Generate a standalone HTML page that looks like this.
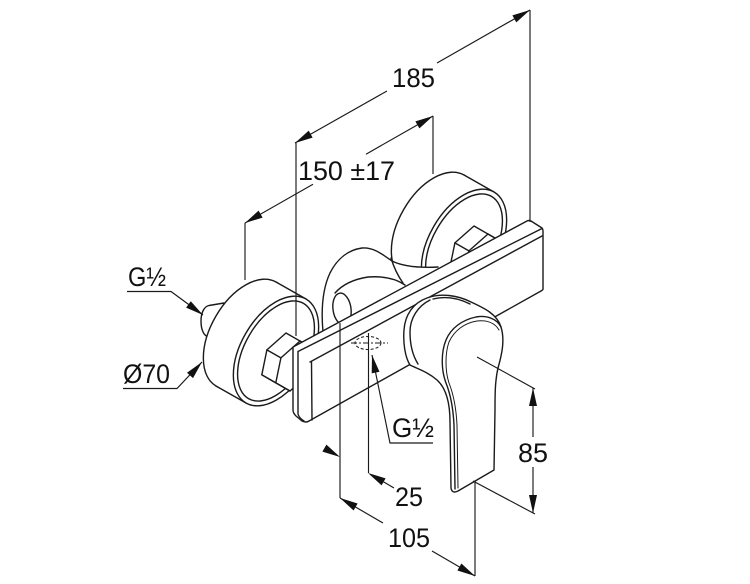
<!DOCTYPE html>
<html>
<head>
<meta charset="utf-8">
<style>
  html,body{margin:0;padding:0;background:#fff;}
  svg{display:block;}
  text{font-family:"Liberation Sans",Arial,sans-serif;font-size:27px;fill:#111;}
</style>
</head>
<body>
<svg width="750" height="584" viewBox="0 0 750 584" xmlns="http://www.w3.org/2000/svg">
<rect width="750" height="584" fill="#fff"/>

<g fill="#fff" stroke="#1a1a1a" stroke-width="1.4" stroke-linejoin="round" stroke-linecap="round">

  <!-- left stub pipe -->
  <path d="M224,303 L209,305.5 C204,306.5 201,313 201,321 C201,330 204,336.5 209,337 L216,336 Z"/>

  <!-- right disc -->
  <g transform="translate(188,-107)">
    <ellipse cx="246" cy="334" rx="35" ry="60" transform="rotate(30 246 334)"/>
    <polygon points="216,386 246,403 306,299 276,282" stroke="none"/>
    <line x1="216" y1="386" x2="246" y2="403"/>
    <line x1="276" y1="282" x2="306" y2="299"/>
    <ellipse cx="276" cy="351" rx="35" ry="60" transform="rotate(30 276 351)"/>
    <ellipse cx="276" cy="351" rx="31" ry="55" fill="none" transform="rotate(30 276 351)"/>
    <!-- right nut -->
    <path d="M286,333 L314.2,349.2 L309.1,374.1 L290,391 L276,383 L261.8,374.8 L266.9,349.9 Z"/>
    <path fill="none" d="M280.9,357.9 L275.8,382.8 L290,391 M280.9,357.9 L300,341 M266.9,349.9 L280.9,357.9 M261.8,374.8 L275.8,382.8 M300,341 L314.2,349.2"/>
  </g>

  <!-- left disc -->
  <ellipse cx="246" cy="334" rx="35" ry="60" transform="rotate(30 246 334)"/>
  <polygon points="216,386 246,403 306,299 276,282" stroke="none"/>
  <line x1="216" y1="386" x2="246" y2="403"/>
  <line x1="276" y1="282" x2="306" y2="299"/>
  <ellipse cx="276" cy="351" rx="35" ry="60" transform="rotate(30 276 351)"/>
  <ellipse cx="276" cy="351" rx="31" ry="55" fill="none" transform="rotate(30 276 351)"/>

  <!-- left nut -->
  <path d="M286,333 L314.2,349.2 L309.1,374.1 L290,391 L276,383 L261.8,374.8 L266.9,349.9 Z"/>
  <path fill="none" d="M280.9,357.9 L275.8,382.8 L290,391 M280.9,357.9 L300,341 M266.9,349.9 L280.9,357.9 M261.8,374.8 L275.8,382.8 M300,341 L314.2,349.2"/>

  <!-- saddle body -->
  <path stroke="none" d="M323,335 C321,310 322,290 330,273 C337,259 348,250 362,248 C374,247 383,255 392,261 C402,266 418,268 440,267 L446,290 L330,345 Z"/>
  <path fill="none" d="M323,332 C321,310 322,290 330,273 C337,259 348,250 362,248 C374,247 383,255 392,261 C402,266 418,268 438,267"/>
  <path fill="none" d="M391,258 C394,268 398,276 403,283"/>
  <path fill="none" d="M335,293 C343,284 355,279 368,277 C382,276 395,278 405,285"/>
  <ellipse cx="342" cy="309" rx="9" ry="16" transform="rotate(-8 342 309)"/>

  <!-- bar -->
  <path d="M293,347 L527,221 Q529,220 531,221 L542,228 Q543,229 543,231 L543,289 Q543,290 541,291 L309,421 Q306,423 302,421 L296,416 Q293,413 293,410 Z"/>
  <path fill="none" d="M298,351.5 L542,228.5"/>
  <path fill="none" d="M310,362 L542,236"/>
  <path fill="none" d="M298,352 L298,414 Q299,418 304,421"/>
  <path fill="none" d="M311.5,362 L312,420"/>

  <!-- housing + lever -->
  <path d="M410,365 C405,357 403,343 404,330 C405,315 413,303 427,298 C441,293 457,295 471,302 C484,308 497,314 501,327 C505,340 502,354 498,368 C495,381 495,395 495,410 L494,470 L458,491 Q452,494 451,488 L450,422 C450,402 446,388 437,380 C428,372 418,369 410,365 Z"/>
  <path fill="none" d="M430,300 C418,306 410,318 410,332 C410,346 413,356 418,364"/>
  <path fill="none" d="M433,299 C445,296 458,298 470,304"/>
  <path fill="none" d="M455,489 L454,425 C453,405 450,393 446,383 C441,370 441,352 446,340 C451,328 462,320 476,317 C487,315 497,319 501,327"/>
  <path fill="none" stroke-width="1" d="M458,488 L457,425 C456,405 453,393 449,383 C445,371 445,353 449,342 C454,331 464,323 477,321 C487,320 495,323 499,330"/>
</g>

<!-- G1/2 hidden outlet -->
<g fill="none" stroke="#1a1a1a" stroke-width="1">
  <ellipse cx="368" cy="343" rx="13" ry="6.5" stroke-dasharray="3 2"/>
  <line x1="351" y1="343" x2="388" y2="343" stroke-dasharray="6 2 2 2"/>
</g>

<!-- dimension & extension lines -->
<g fill="none" stroke="#1a1a1a" stroke-width="1.15">
  <path d="M295,143 L387,91 M437,63 L530,10"/>
  <path d="M245,223 L313,184.3 M366,154.2 L433,116"/>
  <path d="M296,143 V336 M245,223 V280 M433,116 V174 M530,10 V222"/>
  <path d="M340,323 V498 M368.5,333 V473 M475,481 V576"/>
  <path d="M533,388 V437 M533,467 V513 M477,357 L535,389 M473,481 L535,514"/>
  <path d="M340,498 L383,523 M432,551 L475,576"/>
  <path d="M383.6,481.9 L394,488"/>
  <path d="M127,291.5 H171 L203,315"/>
  <path d="M123,388.5 H177 L202,362"/>
  <path d="M372,355 L390,443 H433"/>
</g>

<!-- arrowheads -->
<g fill="#111" stroke="none">
  <polygon points="530,10 516.3,22.4 512.4,15.4"/>
  <polygon points="295,143 308.7,130.6 312.6,137.6"/>
  <polygon points="433,116 419.4,128.4 415.4,121.4"/>
  <polygon points="245,223 262.6,217.6 258.6,210.6"/>
  <polygon points="203,315 186.1,307.6 190.8,301.2"/>
  <polygon points="202,362 193,378.1 187,372.7"/>
  <polygon points="340,457 322.4,451.6 326.4,444.6"/>
  <polygon points="368,473 385.6,478.4 381.6,485.4"/>
  <polygon points="340,498 357.6,503.5 353.6,510.5"/>
  <polygon points="475,576 457.4,570.5 461.4,563.5"/>
  <polygon points="533,388 529,406 537,406"/>
  <polygon points="533,513 529,495 537,495"/>
  <polygon points="372,355 379.5,371.8 371.7,373.4"/>
</g>

<!-- labels -->
<text x="392" y="87" textLength="43" lengthAdjust="spacingAndGlyphs">185</text>
<text x="298" y="180" textLength="97" lengthAdjust="spacingAndGlyphs">150 ±17</text>
<text x="128" y="286" textLength="38" lengthAdjust="spacingAndGlyphs">G½</text>
<text x="123" y="383" textLength="47" lengthAdjust="spacingAndGlyphs">Ø70</text>
<text x="392" y="437" textLength="42" lengthAdjust="spacingAndGlyphs">G½</text>
<text x="518" y="462" textLength="30" lengthAdjust="spacingAndGlyphs">85</text>
<text x="395" y="506" textLength="28" lengthAdjust="spacingAndGlyphs">25</text>
<text x="388" y="547" textLength="42" lengthAdjust="spacingAndGlyphs">105</text>
</svg>
</body>
</html>
